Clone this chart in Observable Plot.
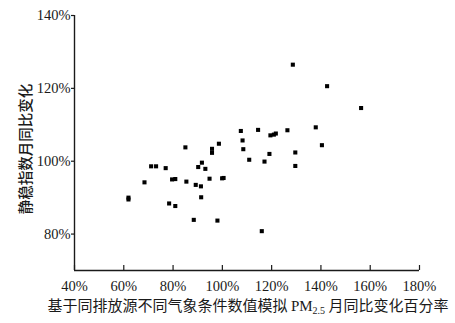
<!DOCTYPE html>
<html>
<head>
<meta charset="utf-8">
<script src="https://cdn.jsdelivr.net/npm/d3@7"></script>
<script src="https://cdn.jsdelivr.net/npm/@observablehq/plot@0.6"></script>
<style>
  html, body { margin: 0; padding: 0; background: #fff; }
  #chart { width: 455px; }
  #xlabel {
    width: 455px; box-sizing: border-box; padding-left: 41px;
    text-align: center; font-size: 15px; line-height: 18px; color: #1a1a1a;
    font-family: "Noto Sans CJK SC", sans-serif; margin-top: 2px; white-space: nowrap;
  }
  #xlabel .lat { font-family: "Liberation Serif", serif; }
  #xlabel sub { font-size: 10px; vertical-align: -3px; line-height: 0; }
</style>
</head>
<body>
<div id="chart"></div>
<div id="xlabel">基于同排放源不同气象条件数值模拟 <span class="lat">PM<sub>2.5</sub></span> 月同比变化百分率</div>
<script>
// Simulated PM2.5 month-on-month change (%) based on same emissions, different meteorology
const simPM25 = [61.9, 61.9, 68.4, 71.1, 73.1, 77.0, 78.4, 79.6, 80.9, 80.9,
  85.0, 85.4, 88.4, 89.2, 90.2, 91.7, 91.3, 91.4, 93.1, 94.8,
  95.8, 95.8, 98.0, 98.6, 99.9, 100.5, 107.5, 108.2, 108.5, 110.9,
  114.5, 117.1, 119.1, 116.0, 119.5, 120.9, 121.7, 126.4, 129.6, 129.6,
  128.6, 137.9, 140.4, 142.5, 156.3];
// Stagnation index month-on-month change (%)
const stagIndex = [89.5, 90.0, 94.2, 98.6, 98.6, 98.1, 88.4, 95.0, 95.1, 87.7,
  103.8, 94.4, 83.9, 93.5, 98.4, 99.6, 93.1, 90.1, 97.9, 95.2,
  103.4, 102.3, 83.7, 104.8, 95.3, 95.4, 108.3, 105.7, 103.3, 100.4,
  108.6, 99.9, 102.0, 80.8, 107.1, 107.3, 107.6, 108.5, 102.4, 98.7,
  126.5, 109.3, 104.4, 120.6, 114.6];
const xTicks = [40, 60, 80, 100, 120, 140, 160, 180];
const yTicks = [80, 100, 120, 140];
const yLabel = "静稳指数月同比变化";

const data = simPM25.map((x, i) => ({x, y: stagIndex[i]}));
const ink = "#1a1a1a";
const tickFont = "Liberation Serif, serif";

const chart = Plot.plot({
  width: 455,
  height: 294,
  marginLeft: 74,
  marginRight: 36,
  marginTop: 15,
  marginBottom: 24,
  style: {background: "#fff", color: ink, fontFamily: tickFont, fontSize: "14.5px"},
  x: {domain: [40, 180]},
  y: {domain: [70, 140]},
  marks: [
    Plot.axisX(xTicks, {tickSize: 0, tickPadding: 10, tickFormat: d => d + "%", fontSize: 14.5, fontFamily: tickFont, label: null}),
    Plot.axisX(xTicks, {tickSize: 5, dy: -5, tickFormat: () => "", strokeWidth: 1.2, label: null}),
    Plot.axisY(yTicks, {tickSize: 3, tickPadding: 1, tickFormat: d => d + "%", fontSize: 14.5, fontFamily: tickFont,
      strokeWidth: 1.2, label: yLabel, labelAnchor: "center", labelOffset: 57, labelArrow: "none"}),
    Plot.ruleY([70], {stroke: ink, strokeWidth: 1.4}),
    Plot.ruleX([40], {stroke: ink, strokeWidth: 1.4}),
    Plot.dot(data, {x: "x", y: "y", symbol: "square", r: 2.3, fill: "#000", stroke: null})
  ]
});
document.getElementById("chart").appendChild(chart);
// style the y-axis label font (CJK) and nudge it
d3.select(chart).selectAll("g[aria-label='y-axis label']")
  .attr("transform", function() { return "translate(3,6) " + (this.getAttribute("transform") || ""); })
  .selectAll("text")
  .style("font-family", "Noto Sans CJK SC, sans-serif")
  .style("font-size", "14.5px")
  .style("font-weight", "500");
</script>
</body>
</html>
